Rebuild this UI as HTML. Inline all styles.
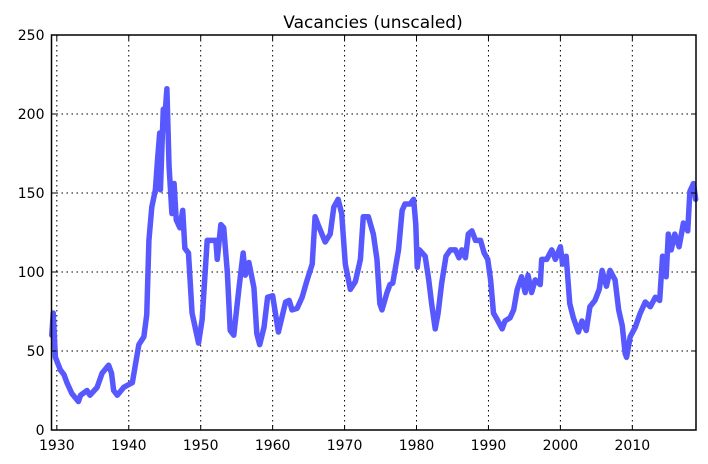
<!DOCTYPE html>
<html><head><meta charset="utf-8">
<style>
html,body{margin:0;padding:0;background:#fff;}
svg{display:block;font-family:"DejaVu Sans","Liberation Sans",sans-serif;}
</style></head>
<body>
<svg id="chart" width="708" height="464" viewBox="0 0 708 464" xmlns="http://www.w3.org/2000/svg">
<rect width="708" height="464" fill="#fff"/>
<text x="373" y="28" text-anchor="middle" font-size="17">Vacancies (unscaled)</text>
<g id="grid"></g>
<g id="series"></g>
<rect x="51.5" y="35" width="644.5" height="395" fill="none" stroke="#000" stroke-width="1.5"/>
<g id="ticks"></g>
</svg>
<script>
const years = [1929.3,1929.5,1929.8,1930.5,1931,1931.4,1932.1,1933,1933.3,1934.2,1934.6,1935.6,1936.3,1937.2,1937.6,1937.9,1938.4,1939.3,1940.5,1941.4,1942.1,1942.5,1942.8,1943.2,1943.7,1944.0,1944.3,1944.4,1944.8,1945.0,1945.3,1945.6,1946.0,1946.3,1946.6,1947.1,1947.5,1947.8,1948.3,1948.8,1949.7,1950.2,1950.9,1951.6,1952.1,1952.3,1952.8,1953.2,1953.7,1954.1,1954.6,1955.3,1955.9,1956.2,1956.7,1957.4,1957.8,1958.2,1958.8,1959.3,1960,1960.8,1961.8,1962.3,1962.7,1963.4,1964.1,1964.8,1965.5,1965.9,1966.4,1967.3,1968,1968.5,1969.1,1969.6,1970.1,1970.8,1971.5,1972.2,1972.6,1973.3,1974.0,1974.5,1974.9,1975.2,1975.9,1976.3,1976.7,1977.5,1978.0,1978.4,1979.1,1979.6,1979.9,1980.1,1980.4,1981.2,1981.7,1982.1,1982.6,1983.0,1983.5,1984.1,1984.7,1985.4,1985.9,1986.3,1986.8,1987.2,1987.7,1988.2,1988.9,1989.4,1989.9,1990.3,1990.7,1991.2,1991.9,1992.3,1993.0,1993.5,1994.0,1994.6,1995.1,1995.5,1996.0,1996.5,1997.2,1997.4,1998.1,1998.8,1999.3,2000.0,2000.3,2000.8,2001.3,2001.8,2002.5,2003.0,2003.6,2004.1,2004.8,2005.4,2005.8,2006.4,2006.9,2007.6,2008.1,2008.6,2009.0,2009.2,2009.7,2010.4,2011.1,2011.8,2012.5,2013.2,2013.8,2014.2,2014.7,2015.0,2015.4,2015.9,2016.5,2017.1,2017.7,2018.0,2018.5,2018.8];
const values = [60,74,46,38,35,30,23,18,22,25,22,27,36,41,36,25,22,27,30,54,59,73,120,141,152,171,188,152,203,197,216,167,137,156,133,128,139,115,112,74,55,70,120,120,120,108,130,128,100,63,60,89,112,98,106,90,61,54,65,84,85,62,81,82,76,77,84,95,105,135,129,119,124,141,146,137,105,89,94,108,135,135,124,108,80,76,87,92,93,114,139,143,143,146,130,103,114,110,95,80,64,74,93,110,114,114,109,114,109,124,126,120,120,112,108,95,74,70,64,69,71,76,89,97,87,98,87,95,92,108,108,114,108,116,105,110,80,71,62,69,63,78,82,89,101,91,101,95,76,66,48.5,46,59,65,74,81,78,84,82,110,97,124,114,124,116,131,126,151,156,146];
const xTicks = [1930,1940,1950,1960,1970,1980,1990,2000,2010];
const yTicks = [0,50,100,150,200,250];

const NS="http://www.w3.org/2000/svg";
const X0=51.5,X1=696,Y0=430,Y1=35;
const xMin=1929.26,xMax=2018.85,yMin=0,yMax=250;
function xs(v){return X0+(v-xMin)/(xMax-xMin)*(X1-X0);}
function ys(v){return Y0-(v-yMin)/(yMax-yMin)*(Y0-Y1);}
function mk(tag,attrs,parent){const e=document.createElementNS(NS,tag);for(const k in attrs)e.setAttribute(k,attrs[k]);parent.appendChild(e);return e;}

const grid=document.getElementById('grid'),ticks=document.getElementById('ticks'),series=document.getElementById('series');
xTicks.forEach(t=>{
  const x=xs(t);
  const g=mk('line',{x1:x,x2:x,y1:Y1,y2:Y0,stroke:'#000','stroke-width':1,'stroke-dasharray':'1.5,3.5'},grid);
  
  
  mk('line',{x1:x,x2:x,y1:Y0,y2:Y0-5,stroke:'#000','stroke-width':1},ticks);
  mk('line',{x1:x,x2:x,y1:Y1,y2:Y1+5,stroke:'#000','stroke-width':1},ticks);
  const l=mk('text',{x:x,y:Y0+20,'text-anchor':'middle','font-size':14},ticks);
  l.textContent=t;
  
  
});
yTicks.forEach(t=>{
  const y=ys(t);
  const g=mk('line',{x1:X0,x2:X1,y1:y,y2:y,stroke:'#000','stroke-width':1,'stroke-dasharray':'1.5,3.5'},grid);
  
  
  mk('line',{x1:X0,x2:X0+5,y1:y,y2:y,stroke:'#000','stroke-width':1},ticks);
  mk('line',{x1:X1,x2:X1-5,y1:y,y2:y,stroke:'#000','stroke-width':1},ticks);
  const l=mk('text',{x:X0-7,y:y+5,'text-anchor':'end','font-size':14},ticks);
  l.textContent=t;
  
  
});
const d=years.map((yr,i)=>(i?'L':'M')+xs(yr).toFixed(2)+','+ys(values[i]).toFixed(2)).join(' ');
const p=mk('path',{d:d,fill:'none',stroke:'#5858ff','stroke-width':5.5,'stroke-linejoin':'round','stroke-linecap':'round'},series);


</script>
</body></html>
